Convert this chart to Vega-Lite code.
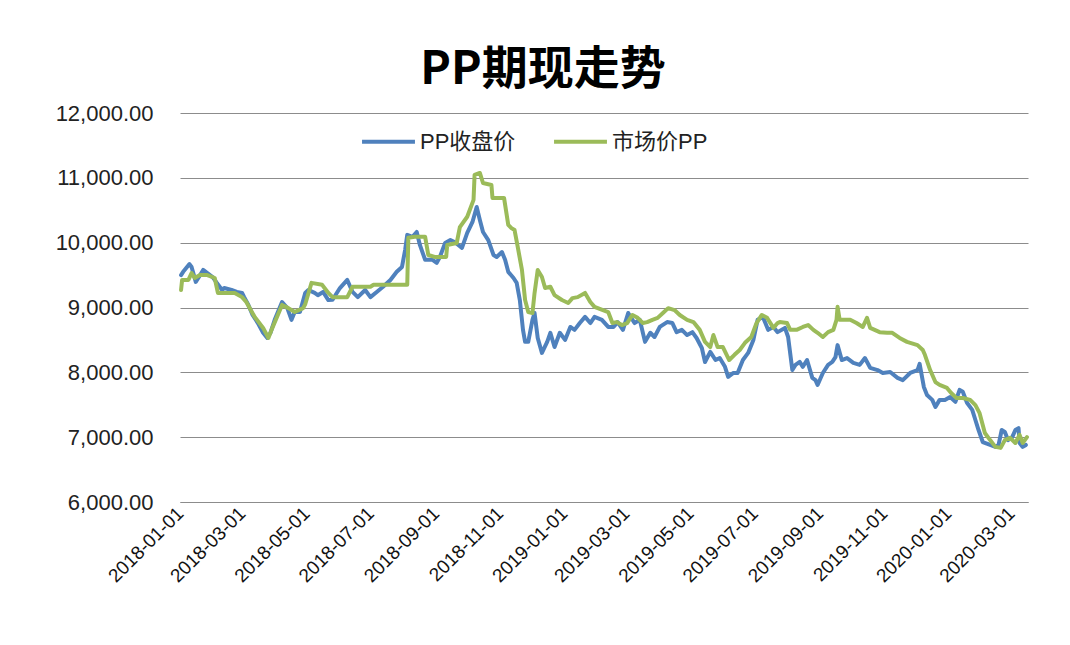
{
"$schema":"https://vega.github.io/schema/vega-lite/v6.json",
"width":848,"height":389,
"autosize":"none",
"padding":{"left":180,"top":113,"right":42,"bottom":143},
"background":"white",
"title":{"text":"PP期现走势","font":"Noto Sans CJK SC","fontSize":46,"fontWeight":"bold","color":"#000000","anchor":"middle","dx":-61,"dy":44,"offset":16,"baseline":"alphabetic"},
"datasets":{
"blue":[
{"d":"2018-01-02","v":9500},{"d":"2018-01-04","v":9550},{"d":"2018-01-10","v":9670},{"d":"2018-01-12","v":9625},{"d":"2018-01-16","v":9395},{"d":"2018-01-19","v":9470},{"d":"2018-01-23","v":9580},{"d":"2018-01-27","v":9530},{"d":"2018-02-01","v":9470},{"d":"2018-02-05","v":9380},{"d":"2018-02-10","v":9270},{"d":"2018-02-12","v":9300},{"d":"2018-02-19","v":9270},{"d":"2018-02-24","v":9240},{"d":"2018-03-01","v":9225},{"d":"2018-03-03","v":9160},{"d":"2018-03-07","v":9040},{"d":"2018-03-11","v":8885},{"d":"2018-03-16","v":8760},{"d":"2018-03-21","v":8610},{"d":"2018-03-25","v":8530},{"d":"2018-03-28","v":8610},{"d":"2018-04-01","v":8810},{"d":"2018-04-08","v":9085},{"d":"2018-04-13","v":8990},{"d":"2018-04-17","v":8810},{"d":"2018-04-20","v":8930},{"d":"2018-04-25","v":8930},{"d":"2018-04-30","v":9225},{"d":"2018-05-03","v":9270},{"d":"2018-05-09","v":9225},{"d":"2018-05-12","v":9190},{"d":"2018-05-17","v":9240},{"d":"2018-05-22","v":9115},{"d":"2018-05-26","v":9120},{"d":"2018-06-02","v":9300},{"d":"2018-06-09","v":9425},{"d":"2018-06-14","v":9240},{"d":"2018-06-19","v":9160},{"d":"2018-06-26","v":9270},{"d":"2018-07-01","v":9160},{"d":"2018-07-07","v":9240},{"d":"2018-07-13","v":9320},{"d":"2018-07-20","v":9425},{"d":"2018-07-26","v":9550},{"d":"2018-07-31","v":9625},{"d":"2018-08-03","v":9890},{"d":"2018-08-05","v":10120},{"d":"2018-08-10","v":10090},{"d":"2018-08-14","v":10165},{"d":"2018-08-17","v":9965},{"d":"2018-08-22","v":9735},{"d":"2018-08-29","v":9735},{"d":"2018-09-02","v":9690},{"d":"2018-09-05","v":9780},{"d":"2018-09-10","v":9995},{"d":"2018-09-15","v":10040},{"d":"2018-09-19","v":10010},{"d":"2018-09-26","v":9920},{"d":"2018-10-01","v":10150},{"d":"2018-10-06","v":10320},{"d":"2018-10-10","v":10550},{"d":"2018-10-13","v":10350},{"d":"2018-10-16","v":10165},{"d":"2018-10-21","v":10040},{"d":"2018-10-26","v":9810},{"d":"2018-10-29","v":9780},{"d":"2018-11-03","v":9855},{"d":"2018-11-06","v":9735},{"d":"2018-11-09","v":9550},{"d":"2018-11-14","v":9455},{"d":"2018-11-17","v":9380},{"d":"2018-11-20","v":9115},{"d":"2018-11-23","v":8655},{"d":"2018-11-25","v":8470},{"d":"2018-11-28","v":8470},{"d":"2018-12-02","v":8810},{"d":"2018-12-04","v":8915},{"d":"2018-12-07","v":8530},{"d":"2018-12-11","v":8300},{"d":"2018-12-16","v":8470},{"d":"2018-12-19","v":8610},{"d":"2018-12-23","v":8390},{"d":"2018-12-28","v":8610},{"d":"2019-01-02","v":8500},{"d":"2019-01-07","v":8700},{"d":"2019-01-11","v":8655},{"d":"2019-01-16","v":8760},{"d":"2019-01-21","v":8855},{"d":"2019-01-26","v":8760},{"d":"2019-01-30","v":8855},{"d":"2019-02-06","v":8810},{"d":"2019-02-12","v":8700},{"d":"2019-02-17","v":8700},{"d":"2019-02-21","v":8775},{"d":"2019-02-26","v":8655},{"d":"2019-03-03","v":8915},{"d":"2019-03-09","v":8760},{"d":"2019-03-14","v":8810},{"d":"2019-03-19","v":8470},{"d":"2019-03-24","v":8610},{"d":"2019-03-28","v":8545},{"d":"2019-04-02","v":8700},{"d":"2019-04-09","v":8775},{"d":"2019-04-14","v":8760},{"d":"2019-04-18","v":8620},{"d":"2019-04-23","v":8655},{"d":"2019-04-28","v":8575},{"d":"2019-05-03","v":8620},{"d":"2019-05-07","v":8530},{"d":"2019-05-12","v":8375},{"d":"2019-05-15","v":8160},{"d":"2019-05-20","v":8315},{"d":"2019-05-25","v":8190},{"d":"2019-05-29","v":8220},{"d":"2019-06-03","v":8085},{"d":"2019-06-06","v":7930},{"d":"2019-06-11","v":7990},{"d":"2019-06-15","v":7990},{"d":"2019-06-20","v":8190},{"d":"2019-06-25","v":8300},{"d":"2019-06-30","v":8500},{"d":"2019-07-04","v":8810},{"d":"2019-07-09","v":8855},{"d":"2019-07-14","v":8655},{"d":"2019-07-19","v":8700},{"d":"2019-07-23","v":8620},{"d":"2019-07-30","v":8685},{"d":"2019-08-02","v":8545},{"d":"2019-08-06","v":8035},{"d":"2019-08-09","v":8115},{"d":"2019-08-13","v":8160},{"d":"2019-08-16","v":8085},{"d":"2019-08-20","v":8190},{"d":"2019-08-25","v":7915},{"d":"2019-08-28","v":7880},{"d":"2019-08-30","v":7805},{"d":"2019-09-04","v":7990},{"d":"2019-09-09","v":8115},{"d":"2019-09-13","v":8160},{"d":"2019-09-16","v":8235},{"d":"2019-09-18","v":8420},{"d":"2019-09-22","v":8190},{"d":"2019-09-27","v":8220},{"d":"2019-10-03","v":8145},{"d":"2019-10-09","v":8115},{"d":"2019-10-14","v":8220},{"d":"2019-10-19","v":8070},{"d":"2019-10-26","v":8035},{"d":"2019-10-31","v":7990},{"d":"2019-11-07","v":8005},{"d":"2019-11-14","v":7915},{"d":"2019-11-19","v":7880},{"d":"2019-11-26","v":7990},{"d":"2019-12-03","v":8035},{"d":"2019-12-05","v":8130},{"d":"2019-12-09","v":7775},{"d":"2019-12-12","v":7650},{"d":"2019-12-17","v":7575},{"d":"2019-12-20","v":7465},{"d":"2019-12-24","v":7575},{"d":"2019-12-29","v":7575},{"d":"2020-01-03","v":7620},{"d":"2020-01-08","v":7545},{"d":"2020-01-12","v":7730},{"d":"2020-01-15","v":7700},{"d":"2020-01-19","v":7530},{"d":"2020-01-24","v":7420},{"d":"2020-01-27","v":7265},{"d":"2020-01-30","v":7110},{"d":"2020-02-03","v":6925},{"d":"2020-02-10","v":6880},{"d":"2020-02-15","v":6850},{"d":"2020-02-18","v":6880},{"d":"2020-02-21","v":7110},{"d":"2020-02-24","v":7080},{"d":"2020-02-27","v":6955},{"d":"2020-03-02","v":7000},{"d":"2020-03-05","v":7110},{"d":"2020-03-08","v":7140},{"d":"2020-03-09","v":6910},{"d":"2020-03-12","v":6850},{"d":"2020-03-15","v":6880}
],
"green":[
{"d":"2018-01-02","v":9270},{"d":"2018-01-03","v":9425},{"d":"2018-01-09","v":9425},{"d":"2018-01-12","v":9530},{"d":"2018-01-15","v":9455},{"d":"2018-01-20","v":9500},{"d":"2018-01-27","v":9500},{"d":"2018-02-03","v":9455},{"d":"2018-02-06","v":9225},{"d":"2018-02-22","v":9225},{"d":"2018-03-01","v":9160},{"d":"2018-03-05","v":9085},{"d":"2018-03-13","v":8855},{"d":"2018-03-21","v":8685},{"d":"2018-03-26","v":8530},{"d":"2018-03-29","v":8655},{"d":"2018-04-08","v":9040},{"d":"2018-04-14","v":8990},{"d":"2018-04-20","v":8930},{"d":"2018-04-28","v":8990},{"d":"2018-04-30","v":9050},{"d":"2018-05-06","v":9380},{"d":"2018-05-16","v":9350},{"d":"2018-05-22","v":9225},{"d":"2018-05-26","v":9160},{"d":"2018-06-09","v":9160},{"d":"2018-06-14","v":9320},{"d":"2018-07-01","v":9320},{"d":"2018-07-04","v":9350},{"d":"2018-08-05","v":9350},{"d":"2018-08-06","v":10075},{"d":"2018-08-12","v":10090},{"d":"2018-08-22","v":10090},{"d":"2018-08-25","v":9810},{"d":"2018-08-31","v":9780},{"d":"2018-09-11","v":9780},{"d":"2018-09-12","v":9965},{"d":"2018-09-21","v":9995},{"d":"2018-09-24","v":10240},{"d":"2018-10-01","v":10400},{"d":"2018-10-07","v":10660},{"d":"2018-10-08","v":11045},{"d":"2018-10-13","v":11075},{"d":"2018-10-16","v":10920},{"d":"2018-10-24","v":10890},{"d":"2018-10-25","v":10690},{"d":"2018-11-05","v":10690},{"d":"2018-11-09","v":10275},{"d":"2018-11-12","v":10225},{"d":"2018-11-15","v":10195},{"d":"2018-11-18","v":9935},{"d":"2018-11-22","v":9580},{"d":"2018-11-25","v":9115},{"d":"2018-11-28","v":8930},{"d":"2018-12-02","v":8915},{"d":"2018-12-04","v":9225},{"d":"2018-12-07","v":9580},{"d":"2018-12-11","v":9470},{"d":"2018-12-14","v":9300},{"d":"2018-12-19","v":9320},{"d":"2018-12-23","v":9190},{"d":"2018-12-30","v":9115},{"d":"2019-01-05","v":9070},{"d":"2019-01-09","v":9145},{"d":"2019-01-14","v":9160},{"d":"2019-01-21","v":9225},{"d":"2019-01-26","v":9085},{"d":"2019-01-30","v":9010},{"d":"2019-02-07","v":8960},{"d":"2019-02-12","v":8930},{"d":"2019-02-16","v":8760},{"d":"2019-02-20","v":8775},{"d":"2019-02-25","v":8730},{"d":"2019-03-02","v":8760},{"d":"2019-03-07","v":8885},{"d":"2019-03-12","v":8840},{"d":"2019-03-17","v":8760},{"d":"2019-03-21","v":8775},{"d":"2019-03-26","v":8810},{"d":"2019-03-31","v":8840},{"d":"2019-04-05","v":8915},{"d":"2019-04-10","v":8990},{"d":"2019-04-16","v":8960},{"d":"2019-04-21","v":8885},{"d":"2019-04-28","v":8810},{"d":"2019-05-04","v":8775},{"d":"2019-05-10","v":8655},{"d":"2019-05-15","v":8470},{"d":"2019-05-20","v":8390},{"d":"2019-05-23","v":8575},{"d":"2019-05-27","v":8390},{"d":"2019-06-01","v":8390},{"d":"2019-06-07","v":8190},{"d":"2019-06-12","v":8270},{"d":"2019-06-17","v":8345},{"d":"2019-06-22","v":8455},{"d":"2019-06-28","v":8545},{"d":"2019-07-03","v":8760},{"d":"2019-07-08","v":8885},{"d":"2019-07-13","v":8840},{"d":"2019-07-19","v":8685},{"d":"2019-07-23","v":8760},{"d":"2019-07-25","v":8775},{"d":"2019-08-01","v":8760},{"d":"2019-08-04","v":8655},{"d":"2019-08-10","v":8655},{"d":"2019-08-16","v":8700},{"d":"2019-08-21","v":8730},{"d":"2019-08-26","v":8655},{"d":"2019-08-30","v":8610},{"d":"2019-09-04","v":8545},{"d":"2019-09-09","v":8620},{"d":"2019-09-14","v":8655},{"d":"2019-09-17","v":8810},{"d":"2019-09-18","v":9010},{"d":"2019-09-20","v":8810},{"d":"2019-09-30","v":8810},{"d":"2019-10-06","v":8760},{"d":"2019-10-12","v":8700},{"d":"2019-10-16","v":8840},{"d":"2019-10-19","v":8685},{"d":"2019-10-28","v":8620},{"d":"2019-11-04","v":8610},{"d":"2019-11-09","v":8610},{"d":"2019-11-16","v":8530},{"d":"2019-11-23","v":8470},{"d":"2019-12-03","v":8420},{"d":"2019-12-08","v":8345},{"d":"2019-12-10","v":8270},{"d":"2019-12-15","v":8035},{"d":"2019-12-20","v":7850},{"d":"2019-12-24","v":7805},{"d":"2019-12-31","v":7760},{"d":"2020-01-04","v":7680},{"d":"2020-01-09","v":7605},{"d":"2020-01-15","v":7605},{"d":"2020-01-22","v":7575},{"d":"2020-01-27","v":7495},{"d":"2020-01-31","v":7370},{"d":"2020-02-05","v":7065},{"d":"2020-02-10","v":6955},{"d":"2020-02-15","v":6850},{"d":"2020-02-20","v":6835},{"d":"2020-02-24","v":6955},{"d":"2020-02-29","v":6990},{"d":"2020-03-05","v":6910},{"d":"2020-03-09","v":7035},{"d":"2020-03-12","v":6910},{"d":"2020-03-16","v":7000}
]},
"encoding":{
"x":{"field":"d","type":"temporal","scale":{"type":"utc","domain":[{"year":2018,"month":1,"date":1,"utc":true},{"year":2020,"month":3,"date":17,"utc":true}]},
"axis":{"title":null,"grid":false,"ticks":false,"domainColor":"#8c8c8c","domainWidth":1,"labelExpr":"utcFormat(datum.value, '%Y-%m-%d')","labelAngle":-45,"labelAlign":"right","labelBaseline":"middle","labelPadding":8,"labelFont":"Liberation Sans","labelFontSize":19,"labelColor":"#111111","labelOverlap":false,"labelBound":false,"labelFlush":false,
"values":[{"year":2018,"month":1,"date":1,"utc":true},{"year":2018,"month":3,"date":1,"utc":true},{"year":2018,"month":5,"date":1,"utc":true},{"year":2018,"month":7,"date":1,"utc":true},{"year":2018,"month":9,"date":1,"utc":true},{"year":2018,"month":11,"date":1,"utc":true},{"year":2019,"month":1,"date":1,"utc":true},{"year":2019,"month":3,"date":1,"utc":true},{"year":2019,"month":5,"date":1,"utc":true},{"year":2019,"month":7,"date":1,"utc":true},{"year":2019,"month":9,"date":1,"utc":true},{"year":2019,"month":11,"date":1,"utc":true},{"year":2020,"month":1,"date":1,"utc":true},{"year":2020,"month":3,"date":1,"utc":true}]}},
"y":{"field":"v","type":"quantitative","scale":{"domain":[6000,12000],"nice":false,"zero":false},
"axis":{"title":null,"values":[6000,7000,8000,9000,10000,11000,12000],"format":",.2f","domain":false,"ticks":false,"labelPadding":27,"labelFont":"Liberation Sans","labelFontSize":22,"labelColor":"#222222","gridColor":"#8c8c8c","gridWidth":1}},
"color":{"field":"s","type":"nominal","scale":{"domain":["PP收盘价","市场价PP"],"range":["#4F81BD","#9BBB59"]},
"legend":{"title":null,"orient":"none","legendX":180,"legendY":0,"direction":"horizontal","symbolType":"stroke","symbolSize":2800,"symbolStrokeWidth":4,"labelFont":"Liberation Sans, Noto Sans CJK SC","labelFontSize":22,"labelColor":"#222222","labelOffset":3,"columnPadding":30}}
},
"layer":[
{"data":{"name":"blue"},"transform":[{"calculate":"'PP收盘价'","as":"s"}],"mark":{"type":"line","strokeWidth":4,"strokeJoin":"round","strokeCap":"round"}},
{"data":{"name":"green"},"transform":[{"calculate":"'市场价PP'","as":"s"}],"mark":{"type":"line","strokeWidth":4,"strokeJoin":"round","strokeCap":"round"}}
],
"config":{"view":{"stroke":null}}
}
